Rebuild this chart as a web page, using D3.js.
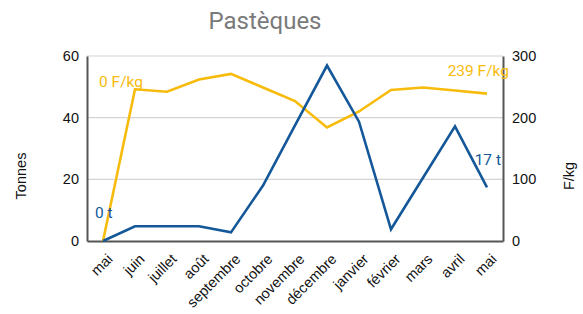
<!DOCTYPE html>
<html>
<head>
<meta charset="utf-8">
<script src="https://cdn.jsdelivr.net/npm/d3@7"></script>
<style>
  body { margin: 0; background: #fff; }
  svg { display: block; }
</style>
</head>
<body>
<div id="root"></div>
<script>
// data
const months = ["mai", "juin", "juillet", "août", "septembre", "octobre", "novembre",
                "décembre", "janvier", "février", "mars", "avril", "mai"];
const tonnes = [0, 4.8, 4.8, 4.8, 2.8, 18, 37.5, 56.9, 38.7, 3.8, 20.5, 37.2, 17.4];
const prix = [0, 246, 242, 262, 271, 249, 227, 184, 210, 245, 249, 244, 239];
const tonnesTicks = [0, 20, 40, 60];
const prixTicks = [0, 100, 200, 300];

const W = 583, H = 314;
const m = { left: 87, right: 80, top: 56, bottom: 73 };
const blue = "#145899", yellow = "#f7bb0c";

const svg = d3.select("#root").append("svg")
  .attr("width", W).attr("height", H);

const x = d3.scalePoint().domain(d3.range(months.length))
  .range([m.left, W - m.right]).padding(0.5);
const yL = d3.scaleLinear().domain([0, 60]).range([H - m.bottom, m.top]);
const yR = d3.scaleLinear().domain([0, 300]).range([H - m.bottom, m.top]);

// title
svg.append("text")
  .attr("x", 265).attr("y", 29)
  .attr("text-anchor", "middle")
  .style("font-family", "Roboto, 'Liberation Sans', sans-serif")
  .style("font-size", "24px")
  .attr("fill", "#7a7a7a")
  .text("Pastèques");

// gridlines
svg.append("g").selectAll("line")
  .data(tonnesTicks.slice(1))
  .enter().append("line")
  .attr("x1", m.left).attr("x2", W - m.right)
  .attr("y1", d => yL(d)).attr("y2", d => yL(d))
  .attr("stroke", "#d4d4d4").attr("stroke-width", 1.2);

// axes
const axL = svg.append("g").attr("transform", `translate(${m.left},0)`)
  .call(d3.axisLeft(yL).tickValues(tonnesTicks).tickSize(0).tickPadding(8));
const axR = svg.append("g").attr("transform", `translate(${W - m.right},0)`)
  .call(d3.axisRight(yR).tickValues(prixTicks).tickSize(0).tickPadding(9));
const axB = svg.append("g").attr("transform", `translate(0,${H - m.bottom})`)
  .call(d3.axisBottom(x).tickFormat(i => months[i]).tickSize(0));

[axL, axR, axB].forEach(a => {
  a.select(".domain").attr("stroke", "#555").attr("stroke-width", 2);
  a.selectAll("text")
    .style("font-family", "'Liberation Sans', Arial, sans-serif")
    .style("font-size", "14.5px")
    .attr("fill", "#111");
});

axB.selectAll("text")
  .attr("text-anchor", "end")
  .attr("dy", null)
  .attr("y", 0)
  .attr("transform", "translate(10,19) rotate(-45)");

// axis titles
svg.append("text")
  .attr("transform", "translate(26,176) rotate(-90)")
  .attr("text-anchor", "middle")
  .style("font-family", "'Liberation Sans', Arial, sans-serif")
  .style("font-size", "14.5px")
  .attr("fill", "#111")
  .text("Tonnes");
svg.append("text")
  .attr("transform", "translate(574,176) rotate(-90)")
  .attr("text-anchor", "middle")
  .style("font-family", "'Liberation Sans', Arial, sans-serif")
  .style("font-size", "14.5px")
  .attr("fill", "#111")
  .text("F/kg");

// lines
const lineL = d3.line().x((d, i) => x(i)).y(d => yL(d));
const lineR = d3.line().x((d, i) => x(i)).y(d => yR(d));

svg.append("path").datum(prix)
  .attr("d", lineR)
  .attr("fill", "none").attr("stroke", yellow).attr("stroke-width", 2.6);
svg.append("path").datum(tonnes)
  .attr("d", lineL)
  .attr("fill", "none").attr("stroke", blue).attr("stroke-width", 2.6);

// labels
const last = months.length - 1;
const lab = (tx, ty, txt, col, anchor) => svg.append("text")
  .attr("x", tx).attr("y", ty)
  .attr("text-anchor", anchor)
  .style("font-family", "Roboto, 'Liberation Sans', sans-serif")
  .style("font-size", "15.5px")
  .attr("fill", col)
  .text(txt);

lab(x(1) + 8, yR(prix[1]) - 2, prix[0] + " F/kg", yellow, "end");
lab(x(0) - 8, yL(tonnes[0]) - 23, tonnes[0] + " t", blue, "start");
lab(x(last) + 22, yR(prix[last]) - 18, prix[last] + " F/kg", yellow, "end");
lab(x(last) + 14, yL(tonnes[last]) - 22, Math.round(tonnes[last]) + " t", blue, "end");
</script>
</body>
</html>
